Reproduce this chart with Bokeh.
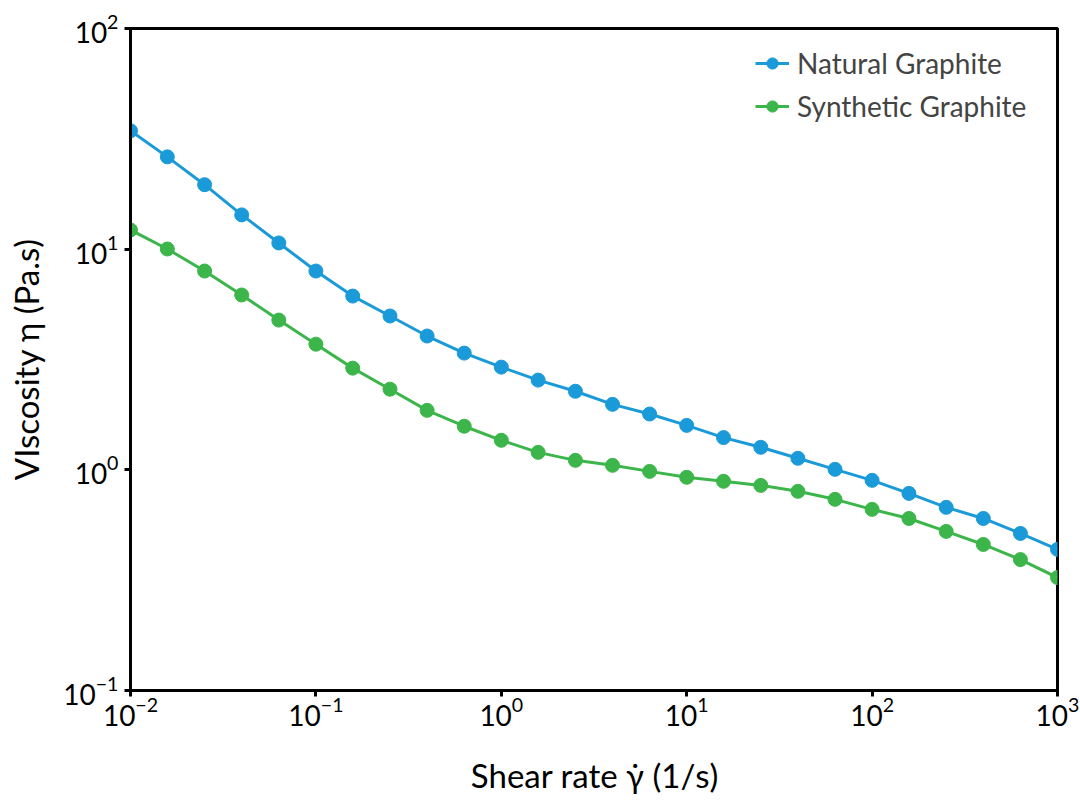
from bokeh.plotting import figure
from bokeh.embed import file_html
from bokeh.resources import INLINE
from bokeh.models import Legend, LegendItem

shear_rate = [0.01, 0.0158, 0.0251, 0.0398, 0.0631, 0.1, 0.158, 0.251, 0.398, 0.631,
              1.0, 1.58, 2.51, 3.98, 6.31, 10.0, 15.8, 25.1, 39.8, 63.1,
              100.0, 158.0, 251.0, 398.0, 631.0, 1000.0]
natural = [34.4, 26.2, 19.6, 14.3, 10.67, 7.96, 6.13, 4.98, 4.04, 3.38,
           2.92, 2.55, 2.27, 1.98, 1.79, 1.59, 1.40, 1.265, 1.128, 1.005,
           0.896, 0.782, 0.676, 0.602, 0.515, 0.436]
synthetic = [12.22, 10.02, 7.96, 6.20, 4.77, 3.71, 2.89, 2.32, 1.86, 1.576,
             1.361, 1.20, 1.104, 1.048, 0.984, 0.925, 0.887, 0.850, 0.799, 0.735,
             0.662, 0.602, 0.526, 0.459, 0.392, 0.325]
series_names = ["Natural Graphite", "Synthetic Graphite"]
series_colors = ["#1a9ad8", "#3cb64a"]

FONT = "Lato"

p = figure(width=1080, height=807, x_axis_type="log", y_axis_type="log",
           x_range=(0.01, 1000), y_range=(0.1, 100),
           output_backend="svg", toolbar_location=None,
           min_border_left=130, min_border_right=23, min_border_top=28, min_border_bottom=117)

p.grid.visible = False
p.outline_line_color = "black"
p.outline_line_width = 3
p.outline_line_alpha = 1

items = []
for name, ys, col in zip(series_names, [natural, synthetic], series_colors):
    l = p.line(shear_rate, ys, line_color=col, line_width=3)
    s = p.scatter(shear_rate, ys, size=14, fill_color=col, line_color=col)
    items.append(LegendItem(label=name, renderers=[l, s]))

legend = Legend(items=items, location=(625, 567), padding=0, margin=0, spacing=9,
                glyph_width=34, glyph_height=28, label_height=28,
                label_text_font=FONT, label_text_font_size="28px", label_standoff=8,
                background_fill_alpha=0, border_line_alpha=0)
p.add_layout(legend)

for ax in (p.xaxis[0], p.yaxis[0]):
    ax.axis_line_width = 3
    ax.axis_line_color = "black"
    ax.major_tick_line_width = 3
    ax.major_tick_line_color = "black"
    ax.major_tick_in = 0
    ax.major_tick_out = 6
    ax.minor_tick_line_color = None
    ax.major_label_text_font = FONT
    ax.major_label_text_font_size = "28px"
    ax.major_label_text_color = "black"
    ax.axis_label_text_font = FONT
    ax.axis_label_text_font_size = "33px"
    ax.axis_label_text_font_style = "normal"
    ax.axis_label_text_color = "black"

p.xaxis.axis_label = "Shear rate \u03b3\u0307 (1/s)"
p.yaxis.axis_label = "VIscosity \u03b7 (Pa.s)"
p.xaxis.major_label_standoff = 0
p.yaxis.major_label_standoff = 6
p.xaxis.axis_label_standoff = 26
p.yaxis.axis_label_standoff = 14

open("out.html", "w").write(file_html(p, INLINE))
